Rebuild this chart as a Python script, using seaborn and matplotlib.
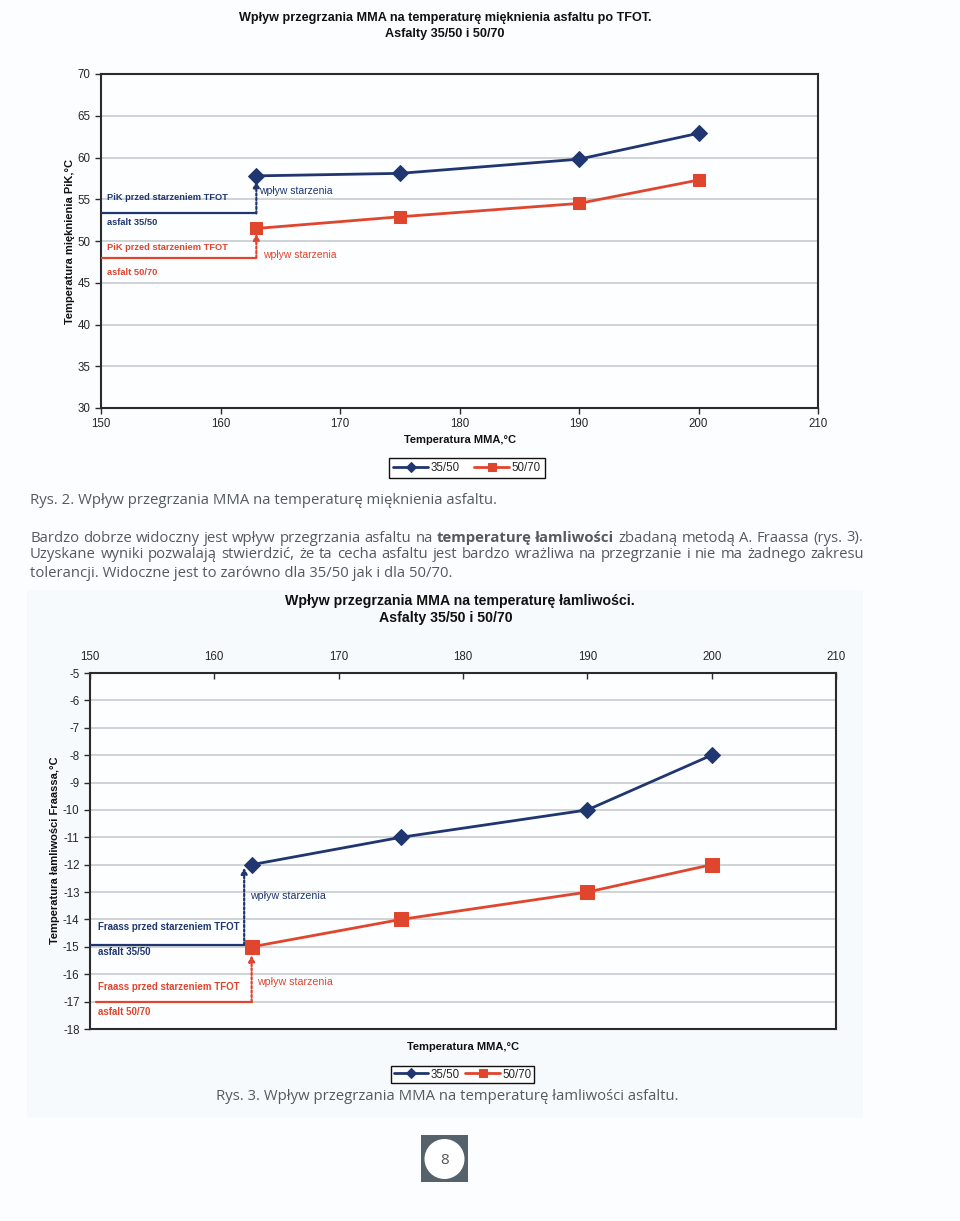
import numpy as np
import pandas as pd
import matplotlib
matplotlib.use('Agg')
import matplotlib.pyplot as plt
from matplotlib.patches import Rectangle, Ellipse
import seaborn as sns

# Data
mma_temp = [163, 175, 190, 200]
pik_3550 = [57.8, 58.1, 59.8, 62.9]
pik_5070 = [51.5, 52.9, 54.5, 57.3]
pik_before_3550 = 53.3
pik_before_5070 = 48.0

fraass_3550 = [-12, -11, -10, -8]
fraass_5070 = [-15, -14, -13, -12]
fraass_before_3550 = -14.93
fraass_before_5070 = -17.0

series_names = ['35/50', '50/70']

W, H = 960, 1221
NAVY = '#1f3670'
RED = '#e0452e'
GRID = '#c9cccf'
BODY = '#555a5e'

sns.set_style('white')
plt.rcParams['font.family'] = ['Liberation Sans', 'DejaVu Sans']

fig = plt.figure(figsize=(W / 100, H / 100), dpi=100, facecolor='#fbfdfe')


def fx(px):
    return px / W


def fy(py):
    return 1 - py / H


def box(x0, y0, x1, y1):
    return [fx(x0), fy(y1), fx(x1) - fx(x0), fy(y0) - fy(y1)]


# faint panel behind the second chart
fig.patches.append(Rectangle((fx(27), fy(1118)), fx(863) - fx(27), fy(590) - fy(1118),
                             transform=fig.transFigure, facecolor='#f6fafc', edgecolor='none',
                             zorder=-5))


def draw_chart(ax, y1, y2, ylim, yticks, markersize):
    df = pd.DataFrame({'x': mma_temp * 2, 'y': y1 + y2,
                       'seria': [series_names[0]] * 4 + [series_names[1]] * 4})
    sns.lineplot(data=df[df['seria'] == '35/50'], x='x', y='y', ax=ax, color=NAVY, lw=2,
                 marker='D', markersize=markersize, markeredgecolor=NAVY, label='35/50', zorder=4)
    sns.lineplot(data=df[df['seria'] == '50/70'], x='x', y='y', ax=ax, color=RED, lw=2,
                 marker='s', markersize=markersize + 1, markeredgecolor=RED, label='50/70', zorder=4)
    ax.set_xlim(150, 210)
    ax.set_ylim(*ylim)
    ax.set_xticks(range(150, 211, 10))
    ax.set_yticks(yticks)
    ax.yaxis.grid(True, color=GRID, lw=1.2)
    ax.set_facecolor('#fdfeff')
    for s in ax.spines.values():
        s.set_color('#2b2b2b')
        s.set_linewidth(1.5)
    ax.tick_params(axis='both', labelsize=8.3, length=4, width=1, color='#2b2b2b', direction='out')
    ax.set_xlabel('')
    ax.set_ylabel('')


# ---------------- chart 1 ----------------
ax1 = fig.add_axes(box(101, 74, 818, 408))
draw_chart(ax1, pik_3550, pik_5070, (30, 70), range(30, 71, 5), 8)
ax1.tick_params(axis='both', left=True, bottom=True)

x_age = 163
ax1.plot([150, x_age], [pik_before_3550] * 2, color=NAVY, lw=1.6, zorder=3)
ax1.plot([150, x_age], [pik_before_5070] * 2, color=RED, lw=1.6, zorder=3)
ax1.annotate('', xy=(x_age, pik_3550[0] - 0.6), xytext=(x_age, pik_before_3550),
             arrowprops=dict(arrowstyle='-|>', color=NAVY, lw=1.6, ls=(0, (1, 1)),
                             mutation_scale=9, shrinkA=0, shrinkB=0), zorder=3)
ax1.annotate('', xy=(x_age, pik_5070[0] - 0.6), xytext=(x_age, pik_before_5070),
             arrowprops=dict(arrowstyle='-|>', color=RED, lw=1.6, ls=(0, (1, 1)),
                             mutation_scale=9, shrinkA=0, shrinkB=0), zorder=3)
ax1.legend().remove()

fig.text(fx(445), fy(18), 'Wpływ przegrzania MMA na temperaturę mięknienia asfaltu po TFOT.',
         ha='center', va='center', fontsize=9.1, fontweight='bold', color='#111')
fig.text(fx(445), fy(34), 'Asfalty 35/50 i 50/70', ha='center', va='center',
         fontsize=9.1, fontweight='bold', color='#111')
fig.text(fx(70), fy(241), 'Temperatura mięknienia PiK,°C', rotation=90, ha='center', va='center',
         fontsize=8, fontweight='bold', color='#111')
fig.text(fx(460), fy(440), 'Temperatura MMA,°C', ha='center', va='center',
         fontsize=8, fontweight='bold', color='#111')

fig.text(fx(107), fy(197), 'PiK przed starzeniem TFOT', ha='left', va='center', fontsize=6.7,
         fontweight='bold', color=NAVY)
fig.text(fx(107), fy(222), 'asfalt 35/50', ha='left', va='center', fontsize=6.7,
         fontweight='bold', color=NAVY)
fig.text(fx(107), fy(248), 'PiK przed starzeniem TFOT', ha='left', va='center', fontsize=6.7,
         fontweight='bold', color=RED)
fig.text(fx(107), fy(272), 'asfalt 50/70', ha='left', va='center', fontsize=6.7,
         fontweight='bold', color=RED)
fig.text(fx(259), fy(191), 'wpływ starzenia', ha='left', va='center', fontsize=7.5, color=NAVY)
fig.text(fx(263), fy(255), 'wpływ starzenia', ha='left', va='center', fontsize=7.5, color=RED)

h, l = ax1.get_legend_handles_labels()
leg1 = fig.legend(h, l, loc='center', bbox_to_anchor=(fx(467), fy(468)), ncol=2, fontsize=8.3,
                  frameon=True, fancybox=False, edgecolor='#111', framealpha=1,
                  handlelength=3.0, columnspacing=1.3, handletextpad=0.2, borderpad=0.35,
                  markerscale=0.6)
leg1.get_frame().set_linewidth(1.0)

# ---------------- text between charts ----------------
BFS = 10.7
BODY_FONT = ['Open Sans', 'DejaVu Sans']
fig.text(fx(30), fy(500), 'Rys. 2. Wpływ przegrzania MMA na temperaturę mięknienia asfaltu.',
         ha='left', va='center', fontsize=BFS, color=BODY, family=BODY_FONT)

renderer = fig.canvas.get_renderer()


def justified(words, x0, x1, y):
    items = []
    for w, bold in words:
        t = fig.text(0, fy(y), w, ha='left', va='center', fontsize=BFS, color=BODY,
                     fontweight='bold' if bold else 'normal', family=BODY_FONT)
        items.append(t)
    widths = [t.get_window_extent(renderer).width for t in items]
    gap = (x1 - x0 - sum(widths)) / (len(items) - 1)
    x = x0
    for t, wd in zip(items, widths):
        t.set_x(fx(x))
        x += wd + gap


line1 = [(w, False) for w in 'Bardzo dobrze widoczny jest wpływ przegrzania asfaltu na'.split()] + \
        [('temperaturę', True), ('łamliwości', True)] + \
        [(w, False) for w in 'zbadaną metodą A. Fraassa (rys. 3).'.split()]
line2 = [(w, False) for w in 'Uzyskane wyniki pozwalają stwierdzić, że ta cecha asfaltu jest bardzo '
                             'wrażliwa na przegrzanie i nie ma żadnego zakresu'.split()]
justified(line1, 30, 863, 538)
justified(line2, 30, 864, 555)
fig.text(fx(30), fy(573), 'tolerancji. Widoczne jest to zarówno dla 35/50 jak i dla 50/70.',
         ha='left', va='center', fontsize=BFS, color=BODY, family=BODY_FONT)

# ---------------- chart 2 ----------------
ax2 = fig.add_axes(box(90, 673, 836, 1029))
draw_chart(ax2, fraass_3550, fraass_5070, (-18, -5), range(-18, -4), 8.5)
ax2.xaxis.tick_top()
ax2.tick_params(axis='x', top=True, bottom=False, direction='in', pad=7)
ax2.tick_params(axis='y', left=True)
ax2.set_yticklabels([str(v) for v in range(-18, -4)])
ax2.legend().remove()

x_age_b, x_age_r = 162.4, 163
ax2.plot([150, x_age_b], [fraass_before_3550] * 2, color=NAVY, lw=1.6, zorder=3)
ax2.plot([150.5, x_age_r], [fraass_before_5070] * 2, color=RED, lw=1.6, zorder=3)
ax2.annotate('', xy=(x_age_b, fraass_3550[0] - 0.1), xytext=(x_age_b, fraass_before_3550),
             arrowprops=dict(arrowstyle='-|>', color=NAVY, lw=1.6, ls=(0, (1, 1)),
                             mutation_scale=9, shrinkA=0, shrinkB=0), zorder=3)
ax2.annotate('', xy=(x_age_r, fraass_5070[0] - 0.3), xytext=(x_age_r, fraass_before_5070),
             arrowprops=dict(arrowstyle='-|>', color=RED, lw=1.6, ls=(0, (1, 1)),
                             mutation_scale=9, shrinkA=0, shrinkB=0), zorder=3)

fig.text(fx(460), fy(601), 'Wpływ przegrzania MMA na temperaturę łamliwości.',
         ha='center', va='center', fontsize=10.2, fontweight='bold', color='#111')
fig.text(fx(446), fy(618), 'Asfalty 35/50 i 50/70', ha='center', va='center',
         fontsize=10.2, fontweight='bold', color='#111')
fig.text(fx(55), fy(850), 'Temperatura łamliwości Fraassa,°C', rotation=90, ha='center',
         va='center', fontsize=8, fontweight='bold', color='#111')
fig.text(fx(463), fy(1047), 'Temperatura MMA,°C', ha='center', va='center',
         fontsize=8, fontweight='bold', color='#111')

fig.text(fx(98), fy(927), 'Fraass przed starzeniem TFOT', ha='left', va='center', fontsize=7,
         fontweight='bold', color=NAVY)
fig.text(fx(98), fy(952), 'asfalt 35/50', ha='left', va='center', fontsize=7,
         fontweight='bold', color=NAVY)
fig.text(fx(98), fy(987), 'Fraass przed starzeniem TFOT', ha='left', va='center', fontsize=7,
         fontweight='bold', color=RED)
fig.text(fx(98), fy(1012), 'asfalt 50/70', ha='left', va='center', fontsize=7,
         fontweight='bold', color=RED)
fig.text(fx(250), fy(896), 'wpływ starzenia', ha='left', va='center', fontsize=7.7, color=NAVY)
fig.text(fx(257), fy(982), 'wpływ starzenia', ha='left', va='center', fontsize=7.7, color=RED)

h, l = ax2.get_legend_handles_labels()
leg2 = fig.legend(h, l, loc='center', bbox_to_anchor=(fx(462.5), fy(1074.5)), ncol=2, fontsize=8.3,
                  frameon=True, fancybox=False, edgecolor='#111', framealpha=1,
                  handlelength=3.0, columnspacing=0.5, handletextpad=0.2, borderpad=0.25,
                  markerscale=0.55)
leg2.get_frame().set_linewidth(1.0)

fig.text(fx(447), fy(1097), 'Rys. 3. Wpływ przegrzania MMA na temperaturę łamliwości asfaltu.',
         ha='center', va='center', fontsize=BFS, color=BODY, family=BODY_FONT)

# ---------------- page number ----------------
fig.patches.append(Rectangle((fx(421), fy(1182)), fx(468) - fx(421), fy(1135) - fy(1182),
                             transform=fig.transFigure, facecolor='#56626b', edgecolor='none'))
fig.patches.append(Ellipse((fx(444.5), fy(1159)), 40 / W, 40 / H, transform=fig.transFigure,
                           facecolor='white', edgecolor='none'))
fig.text(fx(444.5), fy(1160), '8', ha='center', va='center', fontsize=11, color='#555',
         family=BODY_FONT)

fig.savefig('out.png', dpi=100, facecolor=fig.get_facecolor())
